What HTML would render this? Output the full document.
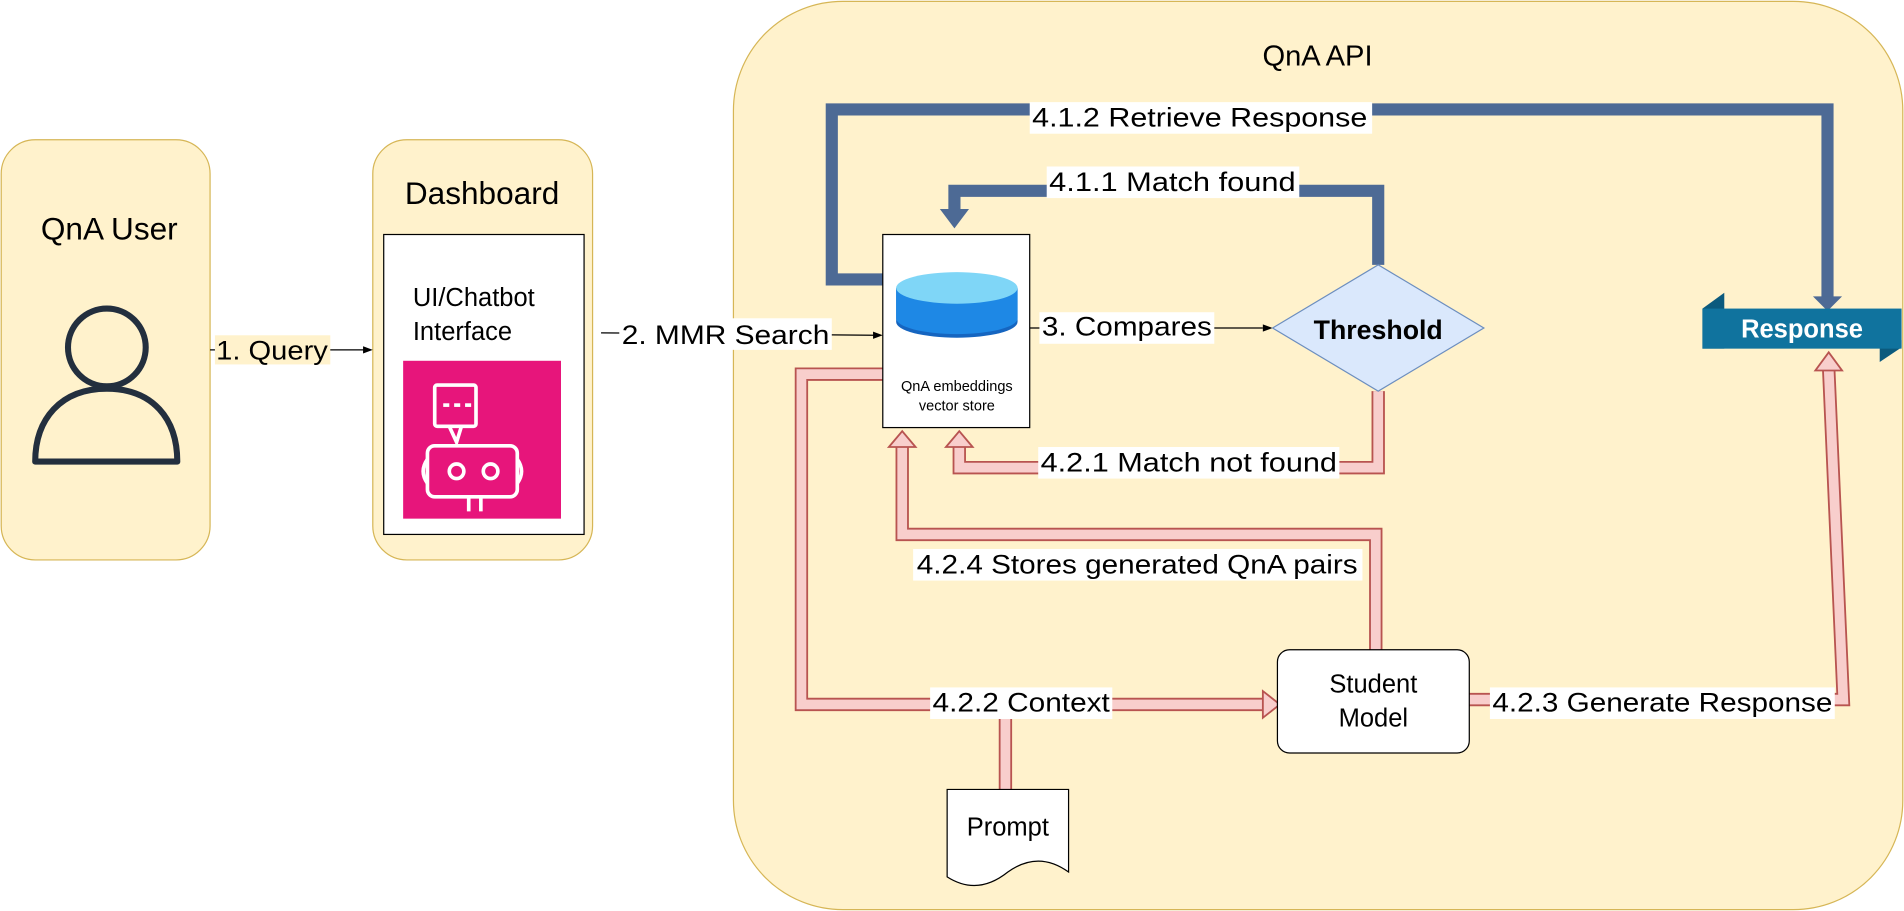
<!DOCTYPE html>
<html><head><meta charset="utf-8"><style>
html,body{margin:0;padding:0;background:#fff;}
svg{display:block;}
text{font-family:"Liberation Sans",Arial,sans-serif;}
</style></head><body>
<svg width="1904" height="911" viewBox="0 0 1568 750" xmlns="http://www.w3.org/2000/svg">
<rect width="1568" height="750" fill="#fff"/>
<!-- QnA User -->
<rect x="1" y="115" width="172" height="346" rx="28" fill="#fff2cc" stroke="#d6b656"/>
<text x="90" y="197" font-size="26" text-anchor="middle">QnA User</text>
<circle cx="88" cy="286" r="32" fill="none" stroke="#232f3e" stroke-width="5"/>
<path d="M29 380 C29 345 50 320 88 320 C126 320 146 345 146 380 Z" fill="none" stroke="#232f3e" stroke-width="5" stroke-linejoin="round"/>
<!-- Dashboard -->
<rect x="307" y="115" width="181" height="346" rx="28" fill="#fff2cc" stroke="#d6b656"/>
<text x="397" y="168" font-size="26" text-anchor="middle">Dashboard</text>
<rect x="316" y="193" width="165" height="247" fill="#fff" stroke="#000"/>
<text x="340" y="252" font-size="21">UI/Chatbot</text>
<text x="340" y="280" font-size="21">Interface</text>
<rect x="332" y="297" width="130" height="130" fill="#e7157b"/>
<g fill="none" stroke="#fff" stroke-width="3">
<rect x="358" y="317" width="34" height="34" rx="2"/>
<path d="M370 351 L376 364 L380 351"/>
<rect x="352" y="367" width="74" height="42" rx="6"/>
<circle cx="376" cy="388" r="6"/><circle cx="404" cy="388" r="6"/>
<path d="M352 378 Q345 388 352 398 M426 378 Q433 388 426 398 M386 409 V421 M396 409 V421"/>
</g>
<g fill="#fff"><rect x="365" y="332" width="5" height="3"/><rect x="374" y="332" width="5" height="3"/><rect x="383" y="332" width="5" height="3"/></g>
<!-- QnA API -->
<rect x="604" y="1" width="963" height="748" rx="90" fill="#fff2cc" stroke="#d6b656"/>
<text x="1085" y="54" font-size="24" text-anchor="middle">QnA API</text>
<!-- arrows 1,2 -->
<line x1="173" y1="288" x2="300" y2="288" stroke="#000"/>
<polygon points="307,288 299,285 299,291" fill="#000"/>
<rect x="177" y="276" width="95" height="24" fill="#fff2cc"/>
<text x="178" y="296" font-size="22" textLength="92" lengthAdjust="spacingAndGlyphs">1. Query</text>
<line x1="495" y1="274" x2="720" y2="276" stroke="#000"/>
<polygon points="727,276 719,273 719,279" fill="#000"/>
<rect x="510" y="262" width="175" height="26" fill="#fff"/>
<text x="512" y="283" font-size="22" textLength="171" lengthAdjust="spacingAndGlyphs">2. MMR Search</text>
<!-- blue arrows -->
<path d="M727 230 H685 V90 H1505 V245" fill="none" stroke="#4d6a95" stroke-width="10"/>
<polygon points="1493,244 1517,244 1505,256" fill="#4d6a95"/>
<rect x="848" y="84" width="282" height="26" fill="#fff"/>
<text x="850" y="104" font-size="22" textLength="276" lengthAdjust="spacingAndGlyphs">4.1.2  Retrieve Response</text>
<path d="M1135 218 V157 H786 V178" fill="none" stroke="#4d6a95" stroke-width="10"/>
<polygon points="774,172 798,172 786,188" fill="#4d6a95"/>
<rect x="862" y="137" width="208" height="26" fill="#fff"/>
<text x="864" y="157" font-size="22" textLength="203" lengthAdjust="spacingAndGlyphs">4.1.1  Match found</text>
<!-- pink arrows -->
<g fill="none" stroke-linejoin="miter">
<path d="M1135 322 V385 H790 V368" stroke="#b85450" stroke-width="11"/>
<path d="M1135 322 V385 H790 V368" stroke="#f8cecc" stroke-width="8"/>
<path d="M1133 535 V440 H743 V368" stroke="#b85450" stroke-width="11"/>
<path d="M1133 535 V440 H743 V368" stroke="#f8cecc" stroke-width="8"/>
<path d="M727 308 H660 V580 H1040" stroke="#b85450" stroke-width="11"/>
<path d="M727 308 H660 V580 H1040" stroke="#f8cecc" stroke-width="8"/>
<path d="M828 650 V584" stroke="#b85450" stroke-width="11"/>
<path d="M828 652 V584" stroke="#f8cecc" stroke-width="8"/>
<path d="M1210 576 H1518 L1506 304" stroke="#b85450" stroke-width="11"/>
<path d="M1210 576 H1518 L1506 304" stroke="#f8cecc" stroke-width="8"/>
</g>
<g fill="#f8cecc" stroke="#b85450" stroke-width="1.5">
<polygon points="779,368 801,368 790,355"/>
<polygon points="732,368 754,368 743,355"/>
<polygon points="1040,569 1040,591 1054,580"/>
<polygon points="1495,305 1517,305 1506,290"/>
</g>
<rect x="855" y="368" width="248" height="26" fill="#fff"/>
<text x="857" y="388" font-size="22" textLength="244" lengthAdjust="spacingAndGlyphs">4.2.1  Match not found</text>
<rect x="752" y="452" width="370" height="26" fill="#fff"/>
<text x="755" y="472" font-size="22" textLength="363" lengthAdjust="spacingAndGlyphs">4.2.4 Stores generated QnA pairs</text>
<rect x="766" y="566" width="150" height="26" fill="#fff"/>
<text x="768" y="586" font-size="22" textLength="146" lengthAdjust="spacingAndGlyphs">4.2.2 Context</text>
<rect x="1227" y="566" width="284" height="26" fill="#fff"/>
<text x="1229" y="586" font-size="22" textLength="280" lengthAdjust="spacingAndGlyphs">4.2.3 Generate Response</text>
<!-- vector store -->
<rect x="727" y="193" width="121" height="159" fill="#fff" stroke="#000"/>
<path d="M738 237 V265 A50 13 0 0 0 838 265 V237" fill="#1565c0"/>
<path d="M738 237 V262 A50 13 0 0 0 838 262 V237" fill="#1e88e5"/>
<ellipse cx="788" cy="237" rx="50" ry="13" fill="#7fd6f7"/>
<text x="788" y="322" font-size="12" text-anchor="middle">QnA embeddings</text>
<text x="788" y="338" font-size="12" text-anchor="middle">vector store</text>
<!-- compares -->
<line x1="848" y1="270" x2="1040" y2="270" stroke="#000"/>
<polygon points="1048,270 1040,267 1040,273" fill="#000"/>
<rect x="856" y="257" width="144" height="26" fill="#fff"/>
<text x="858" y="276" font-size="22" textLength="140" lengthAdjust="spacingAndGlyphs">3. Compares</text>
<!-- threshold -->
<polygon points="1048,270 1135,218 1222,270 1135,322" fill="#dae8fc" stroke="#6c8ebf"/>
<text x="1135" y="279" font-size="22" font-weight="bold" text-anchor="middle">Threshold</text>
<!-- response -->
<polygon points="1402,254 1420,241 1420,287 1402,287" fill="#0b5a7d"/>
<polygon points="1548,280 1566,280 1566,286 1548,298" fill="#0b5a7d"/>
<rect x="1402" y="254" width="164" height="33" fill="#10739e"/>
<text x="1484" y="278" font-size="21" font-weight="bold" fill="#fff" text-anchor="middle">Response</text>
<!-- student model -->
<rect x="1052" y="535" width="158" height="85" rx="10" fill="#fff" stroke="#000"/>
<text x="1131" y="570" font-size="21" text-anchor="middle">Student</text>
<text x="1131" y="598" font-size="21" text-anchor="middle">Model</text>
<!-- prompt -->
<path d="M780 650 H880 V718 Q855 700 830 718 Q805 738 780 722 Z" fill="#fff" stroke="#000"/>
<text x="830" y="688" font-size="21" text-anchor="middle">Prompt</text>
</svg>
</body></html>
